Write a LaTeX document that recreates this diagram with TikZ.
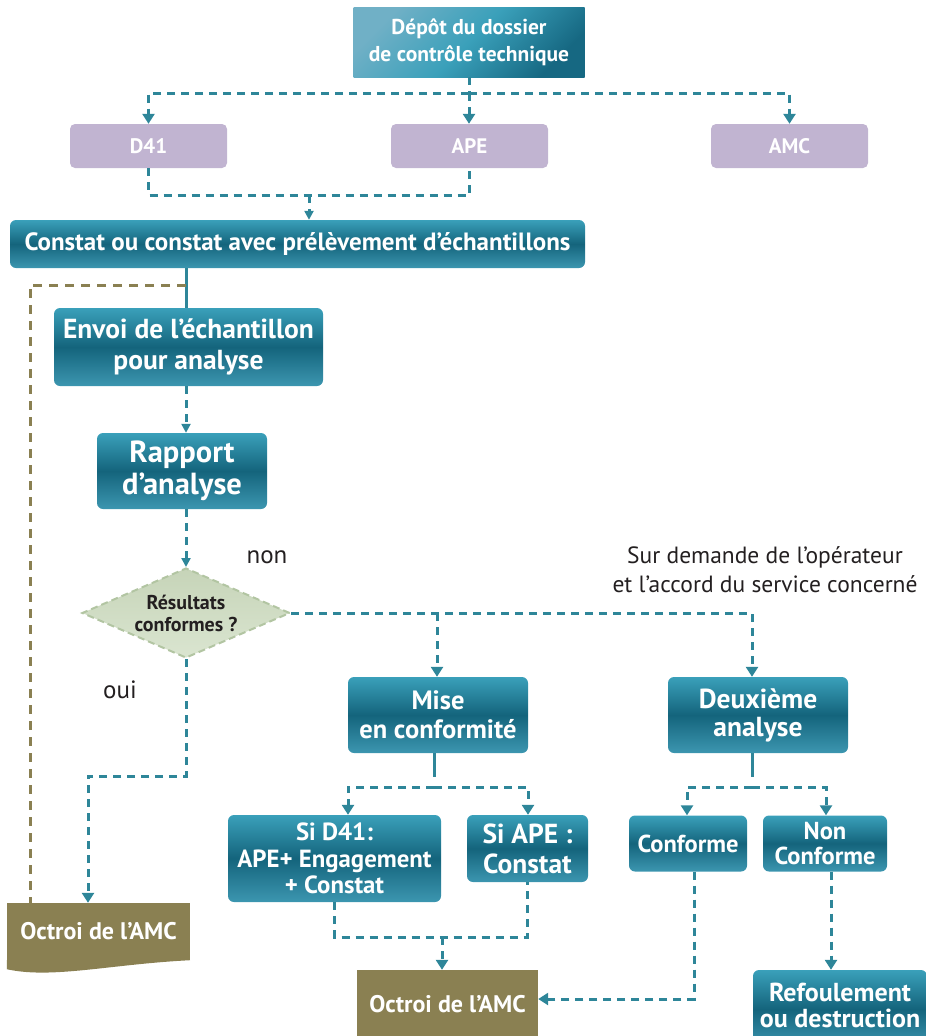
\documentclass[tikz,border=0pt]{standalone}
\usepackage{fontspec}
\setmainfont{PT Sans}
\usetikzlibrary{arrows.meta,shapes.geometric}
\definecolor{tealln}{RGB}{46,134,153}
\definecolor{boxtop}{RGB}{58,160,186}
\definecolor{boxmid}{RGB}{20,100,124}
\definecolor{boxbot}{RGB}{60,150,176}
\definecolor{lav}{RGB}{193,180,209}
\definecolor{olivebx}{RGB}{138,128,82}
\definecolor{diamtop}{RGB}{198,212,184}
\definecolor{diambot}{RGB}{218,229,208}
\definecolor{diamline}{RGB}{178,197,162}
\definecolor{darktxt}{RGB}{35,31,32}
\definecolor{deplight}{RGB}{112,176,198}
\definecolor{depdark}{RGB}{22,104,130}
\newcommand\fsz[2]{\fontsize{#1}{#2}\selectfont}
\begin{document}
\begin{tikzpicture}[x=1pt,y=-1pt,
  tealbox/.style={rounded corners=6pt, top color=boxtop, bottom color=boxbot, middle color=boxmid, text=white, align=center, inner sep=0pt},
  lavbox/.style={rounded corners=5pt, fill=lav, text=white, font=\bfseries\fsz{21}{24}, inner sep=0pt, minimum width=157pt, minimum height=44pt},
  octbox/.style={fill=olivebx, text=white, font=\bfseries\fsz{24}{28}, inner sep=0pt},
  dl/.style={draw=tealln, line width=3pt, dash pattern=on 8pt off 6pt},
  ol/.style={draw=olivebx, line width=3pt, dash pattern=on 9pt off 7pt},
  sl/.style={draw=tealln, line width=3pt},
  arr/.style={-{Triangle[width=12pt,length=10pt]}},
  arrs/.style={-{Triangle[width=9pt,length=9pt]}},
  lbl/.style={text=darktxt, inner sep=0pt, align=center}
]
\useasboundingbox (0,0) rectangle (926,1036);
\clip (0,0) rectangle (926,1036);

% nodes
\node[rectangle, top color=deplight, bottom color=depdark, middle color=boxtop, shading angle=45, text=white, font=\bfseries\fsz{21.5}{27}, align=center, minimum width=231pt, minimum height=70pt, inner sep=0pt] (depot) at (469,42) {Dépôt du dossier\\de contrôle technique};
\node[lavbox] (d41) at (148.5,146) {D41};
\node[lavbox] (ape) at (469.5,146) {APE};
\node[lavbox] (amc) at (789.5,146) {AMC};
\node[tealbox, font=\bfseries\fsz{25}{28}, minimum width=575pt, minimum height=48pt] (constat) at (297.5,244) {Constat ou constat avec prélèvement d’échantillons};
\node[tealbox, font=\bfseries\fsz{27.5}{31}, minimum width=269pt, minimum height=78pt] (envoi) at (188.5,347) {Envoi de l’échantillon\\pour analyse};
\node[tealbox, font=\bfseries\fsz{30.5}{32}, minimum width=170pt, minimum height=76pt] (rapport) at (182,471) {Rapport\\d’analyse};
\node[diamond, shape aspect=2.3, draw=diamline, line width=2pt, dash pattern=on 7pt off 4pt, top color=diamtop, bottom color=diambot, minimum width=208pt, minimum height=90pt, inner sep=0pt, text=darktxt, font=\bfseries\fsz{20}{22}, align=center] (diam) at (186,613) {Résultats\\conformes ?};
\node[lbl, font=\fsz{25}{28}] (non) at (267,557) {non};
\node[lbl, font=\fsz{25}{28}] (oui) at (120,690) {oui};
\node[lbl, font=\fsz{23.5}{29}] (sur) at (765,570) {Sur demande de l’opérateur\\et l’accord du service concerné};
\node[tealbox, font=\bfseries\fsz{26.5}{29}, minimum width=180pt, minimum height=76pt] (mise) at (438,715) {Mise\\en conformité};
\node[tealbox, font=\bfseries\fsz{27.5}{28}, minimum width=180pt, minimum height=76pt] (deux) at (758,715) {Deuxième\\analyse};
\node[tealbox, font=\bfseries\fsz{24.8}{26.5}, minimum width=213pt, minimum height=87pt] (sid41) at (334.5,858.5) {Si D41:\\APE+ Engagement\\+ Constat};
\node[tealbox, font=\bfseries\fsz{27.5}{30}, minimum width=121pt, minimum height=67pt] (siape) at (527.5,848.5) {Si APE :\\Constat};
\node[tealbox, font=\bfseries\fsz{24.5}{25}, minimum width=118pt, minimum height=56pt] (conf) at (688,843.5) {Conforme};
\node[tealbox, font=\bfseries\fsz{24.5}{25}, minimum width=124pt, minimum height=56pt] (nonconf) at (825,843.5) {Non\\Conforme};
\node[tealbox, font=\bfseries\fsz{26}{27}, minimum width=174pt, minimum height=78pt] (refoul) at (840,1009) {\raisebox{4pt}{\begin{tabular}{@{}c@{}}Refoulement\\[-1pt]ou destruction\end{tabular}}};
\node[octbox, minimum width=183pt, minimum height=57pt] (octL) at (98.5,931.5) {Octroi de l’AMC};
\fill[olivebx] (octL.south west) -- ++(0,9) .. controls +(45,10) and +(-80,4) .. (octL.south east) -- cycle;
\node[octbox, minimum width=181pt, minimum height=68pt] (octC) at (447.5,1004) {Octroi de l’AMC};

% helper coordinates
\coordinate (vx) at (186,0);
\coordinate (t1) at (469,93);
\coordinate (t2) at (309,195);
\coordinate (o1) at (186,285);
\coordinate (o2) at (30,0);
\coordinate (q1) at (186,776);
\coordinate (q2) at (88,0);
\coordinate (r1) at (437,613);
\coordinate (r2) at (752,613);
\coordinate (mj) at (434,787);
\coordinate (m1) at (348,0);
\coordinate (m2) at (528,0);
\coordinate (b1) at (442,937);
\coordinate (c1) at (694,999);
\coordinate (dj) at (752,787);
\coordinate (d1) at (687,0);
\coordinate (d2) at (826,0);
\coordinate (n1) at (831,0);

% connectors
\draw[dl] (depot.south -| t1) -- (t1);
\draw[dl,arr] (t1) -| (d41.north);
\draw[dl,arr] (t1) -| (amc.north);
\draw[dl,arr] (t1) -- (ape.north -| t1);
\draw[dl] (d41.south) |- (t2) -| (ape.south);
\draw[dl,arrs] (t2) -- (t2 |- constat.north);
\draw[sl] (constat.south -| vx) -- (envoi.north -| vx);
\draw[ol] (o1) -| (octL.north -| o2);
\draw[dl,arrs] (envoi.south -| vx) -- (rapport.north -| vx);
\draw[dl,arrs] (rapport.south -| vx) -- (diam.north);
\draw[dl,arr] (diam.south) -- (q1) -| (octL.north -| q2);
\draw[dl,arr] (diam.east) -| (deux.north -| r2);
\draw[dl,arr] (r1) -- (mise.north -| r1);
\draw[sl] (mise.south -| mj) -- ([yshift=10pt]mj);
\draw[dl,arr] (mj) -| (sid41.north -| m1);
\draw[dl,arr] (mj) -| (siape.north -| m2);
\draw[dl] (sid41.south) |- (b1) -| (siape.south);
\draw[dl,arr] (b1) -- (b1 |- octC.north);
\draw[sl] (deux.south -| dj) -- ([yshift=10pt]dj);
\draw[dl,arr] (dj) -| (conf.north -| d1);
\draw[dl,arr] (dj) -| (nonconf.north -| d2);
\draw[dl,arr] (conf.south -| c1) -- (c1) -- (octC.east |- c1);
\draw[dl,arr] (nonconf.south -| n1) -- (refoul.north -| n1);
\end{tikzpicture}
\end{document}
